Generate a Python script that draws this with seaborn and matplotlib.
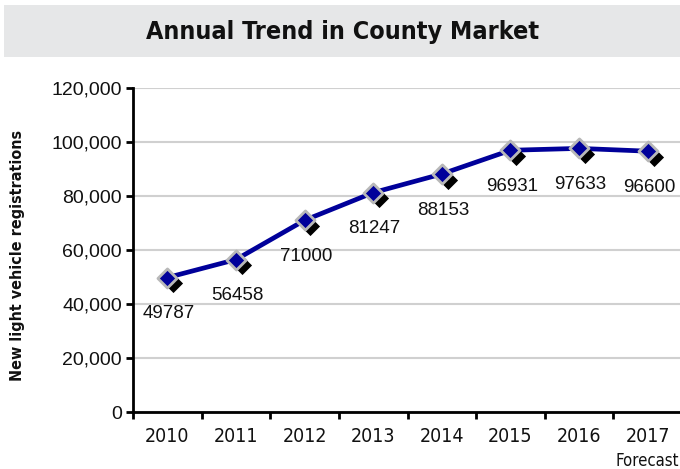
import matplotlib
matplotlib.use("Agg")
import matplotlib.pyplot as plt
import matplotlib.transforms as mtransforms
from matplotlib.patches import Rectangle
from matplotlib.ticker import FuncFormatter, FixedLocator
import seaborn as sns
import pandas as pd

years = ['2010', '2011', '2012', '2013', '2014', '2015', '2016', '2017']
registrations = [49787, 56458, 71000, 81247, 88153, 96931, 97633, 96600]
title = 'Annual Trend in County Market'
y_label = 'New light vehicle registrations'

df = pd.DataFrame({'pos': range(len(years)), 'year': years, 'value': registrations})

sns.set_theme(style="white")
plt.rcParams['font.family'] = ['Liberation Sans', 'DejaVu Sans']
# fonte condensada para título, anos e rótulo do eixo
cond = dict(family='DejaVu Sans', fontstretch='condensed')

fig = plt.figure(figsize=(6.8, 4.69), dpi=100)
W, H = 680, 469
ax = fig.add_axes([133 / W, 1 - 412 / H, (682 - 133) / W, (412 - 88) / H])

# faixa cinza do título
fig.patches.append(Rectangle((4 / W, 1 - 57 / H), (680 - 4) / W, 52 / H,
                             transform=fig.transFigure, facecolor='#e6e7e8',
                             edgecolor='none', zorder=0))
fig.text(343 / W, 1 - 32 / H, title, ha='center', va='center', fontsize=18,
         fontweight='bold', color='#111111', **cond)

sns.lineplot(data=df, x='pos', y='value', ax=ax, color='#00009a', linewidth=3.4,
             zorder=3)

# sombra preta dos marcadores
shadow = mtransforms.offset_copy(ax.transData, fig=fig, x=4.2, y=-4.2, units='points')
ax.scatter(df['pos'], df['value'], marker='D', s=95, color='black',
           transform=shadow, zorder=4, linewidths=0)
ax.scatter(df['pos'], df['value'], marker='D', s=95, color='#00009a',
           edgecolors='#b8b8b8', linewidths=2, zorder=5)

for p, v in zip(df['pos'], df['value']):
    ax.annotate(str(v), (p, v), xytext=(1, -26), textcoords='offset points',
                ha='center', va='center', fontsize=13.5, color='#111111')

ax.set_ylim(0, 120000)
ax.set_xlim(-0.5, 7.5)
ax.yaxis.set_major_locator(FixedLocator(range(0, 120001, 20000)))
ax.yaxis.set_major_formatter(FuncFormatter(lambda v, _: f'{int(v):,}'))
ax.grid(axis='y', color='#d0d0d0', linewidth=1.5)
ax.set_axisbelow(True)

ax.set_xticks([i - 0.5 for i in range(len(years))])
ax.set_xticklabels([])
ax.set_xticks(range(len(years)), minor=True)
ax.set_xticklabels(years, minor=True, fontsize=14, color='#111111', **cond)
ax.tick_params(axis='x', which='major', direction='out', length=5, width=2,
               color='black', bottom=True)
ax.tick_params(axis='x', which='minor', length=0, pad=11)
ax.tick_params(axis='y', direction='out', length=5, width=2, color='black',
               left=True, labelsize=14, labelcolor='#111111', pad=3)

for s in ['top', 'right']:
    ax.spines[s].set_visible(False)
for s in ['left', 'bottom']:
    ax.spines[s].set_color('black')
    ax.spines[s].set_linewidth(2)

ax.set_xlabel('')
ax.set_ylabel('')
fig.text(18 / W, 1 - 255 / H, y_label, rotation=90, ha='center', va='center',
         fontsize=11.5, fontweight='bold', color='#111111', **cond)
fig.text(647 / W, 1 - 461 / H, 'Forecast', ha='center', va='center',
         fontsize=12, color='#111111', **cond)

fig.savefig('out.png', dpi=100)
